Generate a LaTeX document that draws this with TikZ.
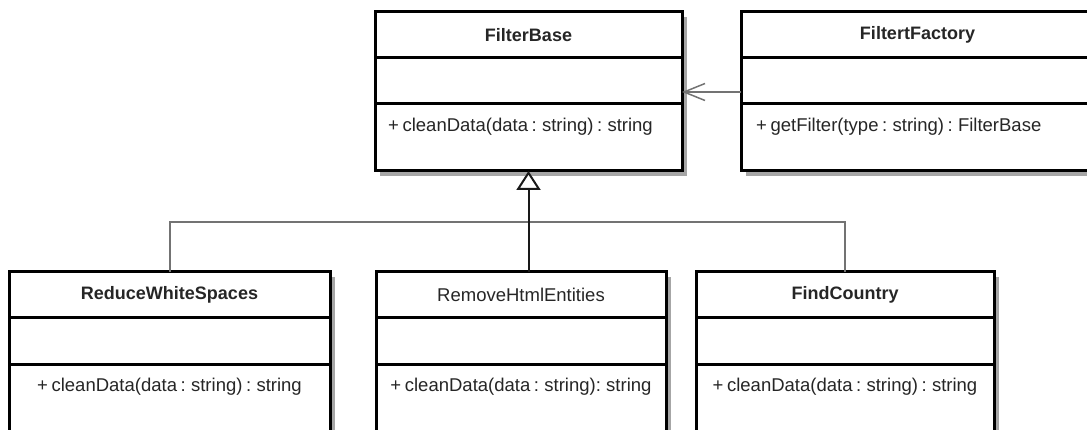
\documentclass[tikz,border=0pt]{standalone}
\usepackage{fontspec}
\setmainfont{Liberation Sans}[WordSpace=0.7]
\usetikzlibrary{positioning,arrows.meta,shadows}

\begin{document}
\begin{tikzpicture}[x=1pt,y=-1pt,
  part/.style={rectangle,draw=black,line width=3pt,fill=white,outer sep=0pt,inner sep=0pt,
    minimum height=46pt,drop shadow={shadow xshift=5pt,shadow yshift=-5pt,fill=black!35,opacity=1}},
  headtxt/.style={font=\fontsize{18}{20}\selectfont\bfseries,text=black!85},
  plaintxt/.style={font=\fontsize{18.5}{20}\selectfont,text=black!85},
  optxt/.style={font=\fontsize{18.5}{20}\selectfont,text=black!85,inner sep=0pt},
  assoc/.style={draw=black!55,line width=1.5pt,-{Straight Barb[length=21pt,width=17pt,line width=1.5pt]}},
  gen/.style={draw=black!55,line width=2pt},
  genarrow/.style={draw=black!90,line width=2pt,-{Triangle[length=19pt,width=24pt,fill=white,line width=2pt]}}]
\useasboundingbox (0,0) rectangle (1087,430);
\clip (0,0) rectangle (1087,430);
% top row
\node[part,headtxt,anchor=north west,minimum width=307pt] (base) at (375,12) {FilterBase};
\node[part,minimum width=307pt,below=0pt of base] (base-at) {};
\node[part,minimum width=307pt,minimum height=67pt,below=0pt of base-at] (base-op) {};
\node[optxt,anchor=west] (base-m) at ([xshift=13pt,yshift=-23pt]base-op.north west) {+ cleanData(data : string) : string};
\node[part,headtxt,anchor=north west,minimum width=353pt] (fact) at (741,12) {FiltertFactory};
\node[part,minimum width=353pt,below=0pt of fact] (fact-at) {};
\node[part,minimum width=353pt,minimum height=67pt,below=0pt of fact-at] (fact-op) {};
\node[optxt,anchor=west] (fact-m) at ([xshift=15pt,yshift=-23pt]fact-op.north west) {+ getFilter(type : string) : FilterBase};
% bottom row
\node[part,headtxt,anchor=north west,minimum width=321pt] (red) at (9,272) {ReduceWhiteSpaces};
\node[part,minimum width=321pt,below=0pt of red] (red-at) {};
\node[part,minimum width=321pt,minimum height=80pt,below=0pt of red-at] (red-op) {};
\node[optxt] (red-m) at ([yshift=-23pt]red-op.north) {+ cleanData(data : string) : string};
\node[part,plaintxt,anchor=north west,minimum width=290pt] (rem) at (376,272) {RemoveHtmlEntities};
\node[part,minimum width=290pt,below=0pt of rem] (rem-at) {};
\node[part,minimum width=290pt,minimum height=80pt,below=0pt of rem-at] (rem-op) {};
\node[optxt] (rem-m) at ([yshift=-23pt]rem-op.north) {+ cleanData(data : string): string};
\node[part,headtxt,anchor=north west,minimum width=298pt] (find) at (696,272) {FindCountry};
\node[part,minimum width=298pt,below=0pt of find] (find-at) {};
\node[part,minimum width=298pt,minimum height=80pt,below=0pt of find-at] (find-op) {};
\node[optxt] (find-m) at ([yshift=-23pt]find-op.north) {+ cleanData(data : string) : string};
% connectors
\coordinate (fork) at (528,222);
\path[gen] (red.north) |- (fork) -| (find.north);
\path[genarrow] (rem.north -| base-op.south) -- (base-op.south);
\path[assoc] ([yshift=-11pt]fact-at.west) -- ([yshift=-11pt]base-at.east);
\end{tikzpicture}
\end{document}
